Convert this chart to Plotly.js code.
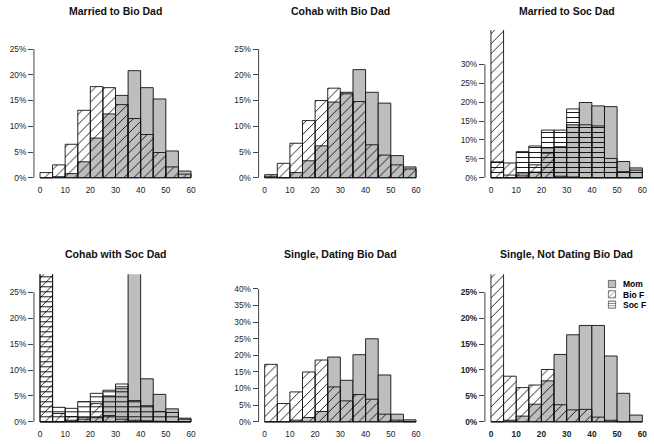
<!DOCTYPE html>
<html>
<head>
<meta charset="utf-8">
<script src="https://cdn.plot.ly/plotly-3.0.1.min.js"></script>
<style>html,body{margin:0;padding:0;background:#fff}#chart{width:654px;height:444px}</style>
</head>
<body>
<div id="chart"></div>
<script>
// Age bins (years), lower edges; each bin is 5 years wide
const binStarts = [0, 5, 10, 15, 20, 25, 30, 35, 40, 45, 50, 55];
const xTickVals = [0, 10, 20, 30, 40, 50, 60];

const panelTitles = ['Married to Bio Dad', 'Cohab with Bio Dad', 'Married to Soc Dad',
                     'Cohab with Soc Dad', 'Single, Dating Bio Dad', 'Single, Not Dating Bio Dad'];
const seriesNames = ['Mom', 'Bio F', 'Soc F'];

// Percent of each group in each age bin
const marriedBioMom   = [0, 0.2, 0.8, 3.1, 7.7, 12.4, 16.0, 20.8, 17.5, 15.3, 5.2, 1.3];
const marriedBioBioF  = [1.0, 2.5, 6.5, 13.1, 17.7, 17.5, 14.2, 11.5, 8.4, 4.9, 2.1, 0.7];

const cohabBioMom     = [0.3, 0, 1.0, 3.3, 6.2, 14.7, 16.6, 21.0, 16.6, 14.5, 4.3, 2.1];
const cohabBioBioF    = [0.6, 2.8, 6.7, 11.1, 15.0, 17.4, 16.3, 14.8, 6.4, 4.4, 2.5, 1.7];

const marriedSocMom   = [0, 0, 0.5, 1.5, 7.9, 8.2, 14.0, 19.9, 19.0, 18.8, 4.3, 2.6];
const marriedSocBioF  = [55, 3.9, 1.0, 3.4, 6.5, 0.4, 0.2, 0, 0, 0, 0, 0];
const marriedSocSocF  = [4.2, 0.7, 6.9, 8.4, 12.6, 12.6, 18.2, 14.0, 13.7, 5.1, 1.6, 2.0];

const cohabSocMom     = [0, 0, 0.3, 0.5, 0.8, 5.0, 6.4, 50, 8.3, 5.3, 2.5, 0.7];
const cohabSocBioF    = [50, 1.6, 1.0, 0.8, 3.5, 1.2, 0.5, 0.3, 0.2, 0.1, 0, 0];
const cohabSocSocF    = [35, 2.8, 2.6, 3.9, 5.5, 6.1, 7.3, 4.1, 3.1, 2.0, 1.8, 0.5];

const datingMom       = [0, 0, 0.5, 1.3, 3.1, 19.5, 12.5, 20.2, 25.0, 14.1, 2.3, 0.6];
const datingBioF      = [17.3, 5.5, 9.0, 15.0, 18.6, 10.5, 6.3, 8.2, 6.8, 2.3, 0.5, 0];

const notDatingMom    = [0, 0.3, 1.1, 3.4, 7.9, 13.0, 16.8, 18.6, 18.6, 12.7, 5.5, 1.3];
const notDatingBioF   = [60, 8.8, 6.6, 7.1, 10.1, 3.3, 2.3, 2.4, 0.9, 0.3, 0, 0];

// y-axis tick sets
const yTicks25 = [0, 5, 10, 15, 20, 25];
const yTicks30 = [0, 5, 10, 15, 20, 25, 30];
const yTicks40 = [0, 5, 10, 15, 20, 25, 30, 35, 40];

const panels = [
  {mom: marriedBioMom, bio: marriedBioBioF, soc: null, yRange: [-1.1, 28.7], yTicks: yTicks25},
  {mom: cohabBioMom, bio: cohabBioBioF, soc: null, yRange: [-1.1, 28.7], yTicks: yTicks25},
  {mom: marriedSocMom, bio: marriedSocBioF, soc: marriedSocSocF, yRange: [-1.5, 39.07], yTicks: yTicks30, legend: true},
  {mom: cohabSocMom, bio: cohabSocBioF, soc: cohabSocSocF, yRange: [-1.1, 28.48], yTicks: yTicks25},
  {mom: datingMom, bio: datingBioF, soc: null, yRange: [-1.71, 44.4], yTicks: yTicks40},
  {mom: notDatingMom, bio: notDatingBioF, soc: null, yRange: [-1.1, 28.47], yTicks: yTicks25, bold: true}
];

const W = 654, H = 444;
const colPx = [[33.96, 197.04], [258.6, 422.1], [484.9, 648.4]];
const rowPx = [[30, 183.4], [274.3, 427.5]];
const legendPx = [592, 274];
const FONT = 'Liberation Sans, Arial, Helvetica, sans-serif';
const xCenters = binStarts.map(b => b + 2.5);

const data = [];
const layout = {
  width: W, height: H,
  margin: {l: 0, r: 0, t: 0, b: 0},
  paper_bgcolor: '#fff', plot_bgcolor: '#fff',
  barmode: 'overlay', bargap: 0,
  font: {family: FONT, color: '#222'},
  showlegend: true,
  legend: {x: 0.5, y: 0.5, xanchor: 'left', yanchor: 'top',
           bgcolor: 'rgba(0,0,0,0)', borderwidth: 0,
           font: {size: 8.5, family: FONT, color: '#000', weight: 'bold'},
           itemwidth: 30, tracegroupgap: 0},
  annotations: [], shapes: []
};

panels.forEach((p, i) => {
  const col = i % 3, row = Math.floor(i / 3);
  const sfx = i === 0 ? '' : String(i + 1);
  const xa = 'x' + sfx, ya = 'y' + sfx;
  const line = {color: '#111', width: 0.9};
  data.push({type: 'bar', x: xCenters, y: p.mom, width: 5, xaxis: xa, yaxis: ya,
    name: seriesNames[0], showlegend: !!p.legend, hoverinfo: 'skip',
    marker: {color: '#BEBEBE', line: line}});
  data.push({type: 'bar', x: xCenters, y: p.bio, width: 5, xaxis: xa, yaxis: ya,
    name: seriesNames[1], showlegend: !!p.legend, hoverinfo: 'skip',
    marker: {color: '#000', line: line,
             pattern: {shape: '/', size: 7, solidity: 0.12, fillmode: 'replace', bgcolor: 'rgba(0,0,0,0)'}}});
  if (p.soc) {
    data.push({type: 'bar', x: xCenters, y: p.soc, width: 5, xaxis: xa, yaxis: ya,
      name: seriesNames[2], showlegend: !!p.legend, hoverinfo: 'skip',
      marker: {color: '#000', line: line,
               pattern: {shape: '-', size: 5, solidity: 0.18, fillmode: 'replace', bgcolor: 'rgba(0,0,0,0)'}}});
  }
  const tf = {size: 8.3, family: FONT, color: '#222'};
  if (p.bold) tf.weight = 'bold';
  layout['xaxis' + sfx] = {
    domain: [colPx[col][0] / W, colPx[col][1] / W], anchor: ya,
    range: [-2.4, 62.4], tickvals: xTickVals, ticks: '', showline: false,
    showgrid: false, zeroline: false, tickfont: tf, fixedrange: true, automargin: false
  };
  layout['yaxis' + sfx] = {
    domain: [1 - rowPx[row][1] / H, 1 - rowPx[row][0] / H], anchor: xa,
    range: p.yRange, tickmode: 'array', tickvals: p.yTicks, ticktext: p.yTicks.map(v => v + '%'),
    ticks: 'outside', ticklen: 5, tickcolor: '#444', tickwidth: 1, showline: false, showgrid: false,
    zeroline: false, tickfont: tf, fixedrange: true, automargin: false
  };
  layout.shapes.push({type: 'line', xref: xa + ' domain', yref: ya, x0: 0, x1: 0,
    y0: 0, y1: p.yTicks[p.yTicks.length - 1], line: {color: '#444', width: 1}});
  layout.annotations.push({text: '<b>' + panelTitles[i] + '</b>', xref: 'paper', yref: 'paper',
    x: (colPx[col][0] + colPx[col][1]) / 2 / W, y: 1 - (row === 0 ? 11 : 254) / H,
    xanchor: 'center', yanchor: 'middle', showarrow: false,
    font: {size: 10.5, family: FONT, color: '#111'}});
});

const gd = document.getElementById('chart');
Plotly.newPlot(gd, data, layout, {staticPlot: true}).then(() => {
  // compact legend like R's legend(): small swatches, tight rows, top-right of last panel
  const lg = gd.querySelector('.legend');
  if (lg) lg.setAttribute('transform', 'translate(' + legendPx[0] + ',' + legendPx[1] + ')');
  const items = gd.querySelectorAll('.legend .traces');
  items.forEach((t, i) => {
    t.setAttribute('transform', 'translate(0,' + (10 + i * 10.3) + ')');
    t.querySelectorAll('.legendpoints path').forEach(p => {
      p.setAttribute('transform', (p.getAttribute('transform') || '') + ' scale(0.6)');
    });
    const txt = t.querySelector('text.legendtext');
    if (txt) txt.setAttribute('x', 31);
  });
});
</script>
</body>
</html>
